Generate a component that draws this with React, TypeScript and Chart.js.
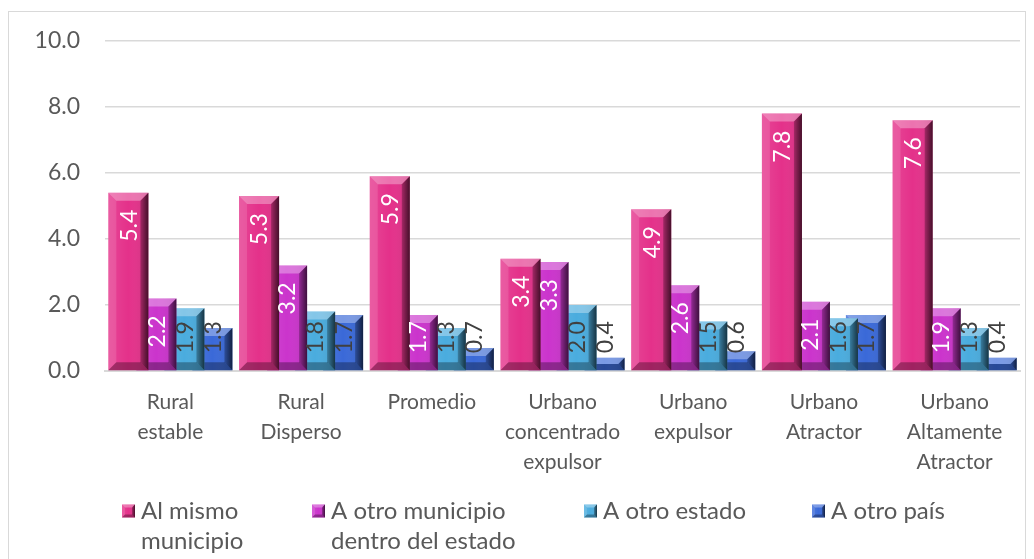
import React, { useEffect, useRef } from "react";
import { Chart, registerables } from "chart.js";
Chart.register(...registerables);

const categories: string[][] = [
  ["Rural", "estable"],
  ["Rural", "Disperso"],
  ["Promedio"],
  ["Urbano", "concentrado", "expulsor"],
  ["Urbano", "expulsor"],
  ["Urbano", "Atractor"],
  ["Urbano", "Altamente", "Atractor"],
];

const seriesNames = [
  "Al mismo municipio",
  "A otro municipio dentro del estado",
  "A otro estado",
  "A otro país",
];
const legendLines: string[][] = [
  ["Al mismo", "municipio"],
  ["A otro municipio", "dentro del estado"],
  ["A otro estado"],
  ["A otro país"],
];

const mismoMunicipio = [5.4, 5.3, 5.9, 3.4, 4.9, 7.8, 7.6];
const otroMunicipio = [2.2, 3.2, 1.7, 3.3, 2.6, 2.1, 1.9];
const otroEstado = [1.9, 1.8, 1.3, 2.0, 1.5, 1.6, 1.3];
const otroPais = [1.3, 1.7, 0.7, 0.4, 0.6, 1.7, 0.4];

const yMin = 0;
const yMax = 10;
const yStep = 2;

const seriesColors = ["#E4318A", "#CB34CC", "#4AACDE", "#3A69D8"];
const labelColors = ["#ffffff", "#ffffff", "#404040", "#404040"];

const FONT = "Lato, 'Open Sans', sans-serif";
const TEXT = "#595959";

function quad(ctx: CanvasRenderingContext2D, pts: number[][], fill: any) {
  ctx.beginPath();
  ctx.moveTo(pts[0][0], pts[0][1]);
  for (let i = 1; i < pts.length; i++) ctx.lineTo(pts[i][0], pts[i][1]);
  ctx.closePath();
  ctx.fillStyle = fill;
  ctx.fill();
}

function drawBevel(ctx: CanvasRenderingContext2D, x0: number, y0: number, x1: number, y1: number, bev: number) {
  const w = x1 - x0;
  const h = y1 - y0;
  if (w <= 0 || h <= 0) return;
  const b = Math.min(bev, w / 2, h / 2);
  ctx.save();
  const g = ctx.createLinearGradient(x0, 0, x1, 0);
  g.addColorStop(0, "rgba(255,255,255,0.10)");
  g.addColorStop(0.5, "rgba(255,255,255,0)");
  g.addColorStop(1, "rgba(0,0,0,0.12)");
  ctx.fillStyle = g;
  ctx.fillRect(x0, y0, w, h);
  quad(ctx, [[x0, y0], [x1, y0], [x1 - b, y0 + b], [x0 + b, y0 + b]], "rgba(255,255,255,0.32)");
  quad(ctx, [[x0, y0], [x0 + b, y0 + b], [x0 + b, y1 - b], [x0, y1]], "rgba(255,255,255,0.12)");
  const gr = ctx.createLinearGradient(x1 - b, 0, x1, 0);
  gr.addColorStop(0, "rgba(0,0,0,0.25)");
  gr.addColorStop(1, "rgba(0,0,0,0.65)");
  quad(ctx, [[x1, y0], [x1, y1], [x1 - b, y1 - b], [x1 - b, y0 + b]], gr);
  quad(ctx, [[x0, y1], [x1, y1], [x1 - b, y1 - b], [x0 + b, y1 - b]], "rgba(0,0,0,0.30)");
  ctx.restore();
}

const bevelPlugin = {
  id: "bevel",
  afterDatasetDraw(chart: any, args: any) {
    const ctx = chart.ctx;
    args.meta.data.forEach((el: any) => {
      const p = el.getProps(["x", "y", "base", "width"], true);
      drawBevel(ctx, p.x - p.width / 2, p.y, p.x + p.width / 2, p.base, 8);
    });
  },
};

const labelPlugin = {
  id: "valueLabels",
  afterDatasetsDraw(chart: any) {
    const ctx = chart.ctx;
    ctx.save();
    ctx.font = `23px ${FONT}`;
    ctx.textAlign = "center";
    ctx.textBaseline = "middle";
    chart.data.datasets.forEach((ds: any, di: number) => {
      const meta = chart.getDatasetMeta(di);
      meta.data.forEach((el: any, i: number) => {
        const p = el.getProps(["x", "y", "base"], true);
        const cy = Math.min(p.y + 33, p.base - 33);
        ctx.save();
        ctx.translate(p.x, cy);
        ctx.rotate(-Math.PI / 2);
        ctx.fillStyle = labelColors[di];
        ctx.fillText(Number(ds.data[i]).toFixed(1), 0, 1);
        ctx.restore();
      });
    });
    ctx.restore();
  },
};

const legendX = [113, 303, 575, 803];
const legendPlugin = {
  id: "customLegend",
  afterDraw(chart: any) {
    const ctx = chart.ctx;
    ctx.save();
    ctx.font = `24px ${FONT}`;
    ctx.textBaseline = "middle";
    ctx.textAlign = "left";
    const y1 = 499;
    const lh = 30;
    legendLines.forEach((lines, i) => {
      const mx = legendX[i];
      const s = 13;
      ctx.fillStyle = seriesColors[i];
      ctx.fillRect(mx, y1 - s / 2, s, s);
      drawBevel(ctx, mx, y1 - s / 2, mx + s, y1 + s / 2, 3);
      ctx.fillStyle = TEXT;
      lines.forEach((t, li) => ctx.fillText(t, mx + 19, y1 + li * lh));
    });
    ctx.restore();
  },
};

export default function App() {
  const ref = useRef<HTMLCanvasElement | null>(null);
  useEffect(() => {
    if (!ref.current) return;
    const series = [mismoMunicipio, otroMunicipio, otroEstado, otroPais];
    const chart = new Chart(ref.current, {
      type: "bar",
      data: {
        labels: categories,
        datasets: series.map((d, i) => ({
          label: seriesNames[i],
          data: d,
          backgroundColor: seriesColors[i],
          borderWidth: 0,
          categoryPercentage: 0.857,
          barPercentage: 1.43,
        })),
      },
      options: {
        responsive: false,
        devicePixelRatio: 1,
        animation: false,
        layout: { padding: { left: 0, right: 5, top: 29, bottom: 79 } },
        plugins: { legend: { display: false }, tooltip: { enabled: false } },
        scales: {
          x: {
            grid: { display: false, drawTicks: false },
            border: { display: true, color: "#d9d9d9", width: 2 },
            ticks: {
              color: TEXT,
              font: { family: FONT, size: 21, lineHeight: 1.43 },
              padding: 16,
              maxRotation: 0,
              autoSkip: false,
            },
            afterFit: (s: any) => {
              s.height = 120;
              s.paddingLeft = 0;
              s.paddingRight = 0;
            },
          },
          y: {
            min: yMin,
            max: yMax,
            grid: { color: "#d9d9d9", lineWidth: 1.5, drawTicks: false },
            border: { display: false },
            ticks: {
              stepSize: yStep,
              color: TEXT,
              font: { family: FONT, size: 23 },
              padding: 25,
              callback: (v: any) => Number(v).toFixed(1),
            },
            afterFit: (s: any) => {
              s.width = 96;
              s.paddingTop = 0;
              s.paddingBottom = 0;
            },
          },
        },
      },
      plugins: [bevelPlugin, labelPlugin, legendPlugin],
    });
    return () => chart.destroy();
  }, []);
  return (
    <div
      style={{
        position: "fixed",
        left: 8,
        top: 11,
        width: 1018,
        height: 560,
        border: "1px solid #d9d9d9",
        boxSizing: "border-box",
        background: "#fff",
      }}
    >
      <canvas ref={ref} width={1016} height={558} style={{ display: "block" }} />
    </div>
  );
}
